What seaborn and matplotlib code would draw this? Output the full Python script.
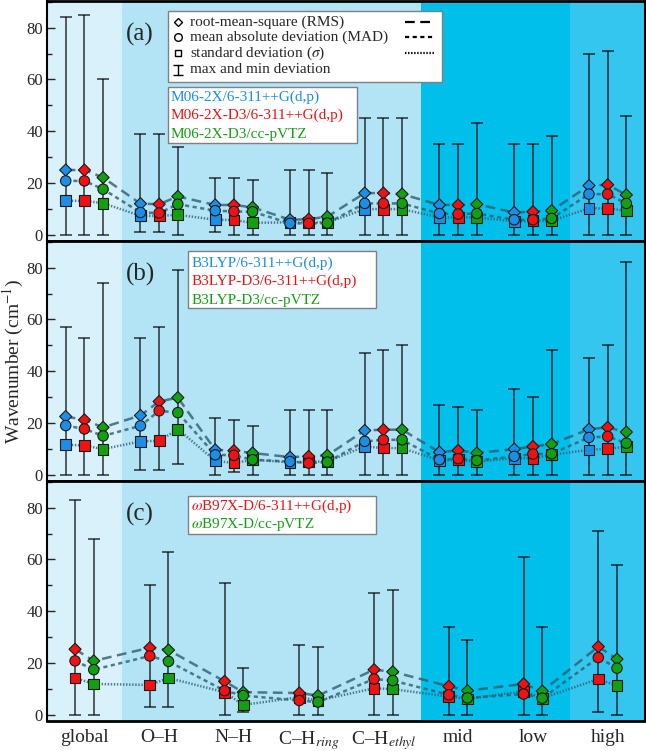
import numpy as np
import pandas as pd
import matplotlib
matplotlib.use("Agg")
import matplotlib.pyplot as plt
import seaborn as sns
from matplotlib.patches import Rectangle
from matplotlib.ticker import MultipleLocator

# ---------------- datos ----------------
categories = ["global", "O–H", "N–H", r"C–H$_{ring}$", r"C–H$_{ethyl}$", "mid", "low", "high"]

# panel (a): M06-2X  (filas: azul, rojo, verde)
a_methods = ["M06-2X/6-311++G(d,p)", "M06-2X-D3/6-311++G(d,p)", "M06-2X-D3/cc-pVTZ"]
a_rms = [[25.0, 12.0, 11.5, 5.8, 16.1, 11.5, 8.6, 19.0],
         [25.0, 11.8, 11.5, 6.0, 16.1, 11.5, 8.9, 19.3],
         [22.1, 14.8, 10.6, 7.0, 15.7, 11.8, 9.3, 15.4]]
a_mad = [[20.8, 8.6, 9.3, 4.4, 12.1, 8.2, 5.8, 15.7],
         [20.8, 8.4, 9.0, 4.4, 12.1, 8.0, 5.8, 15.7],
         [17.6, 11.8, 8.9, 4.5, 12.1, 8.2, 6.3, 12.1]]
a_sd = [[13.1, 7.3, 5.8, 4.8, 9.9, 6.7, 5.1, 10.2],
        [13.1, 7.3, 5.7, 4.8, 9.9, 6.7, 5.4, 10.2],
        [12.2, 7.7, 4.6, 4.8, 9.9, 6.7, 5.4, 9.3]]
a_max = [[84, 39, 22, 25, 45, 35, 35, 70],
         [85, 39, 22, 25, 45, 35, 35, 71],
         [60, 34, 21, 24, 45, 43, 38, 46]]
a_min = [[0, 1, 1, 0, 0, 0, 0, 0],
         [0, 1, 0, 0, 0, 0, 0, 0],
         [0, 0, 0, 0, 0, 0, 0, 0]]

# panel (b): B3LYP
b_methods = ["B3LYP/6-311++G(d,p)", "B3LYP-D3/6-311++G(d,p)", "B3LYP-D3/cc-pVTZ"]
b_rms = [[22.5, 22.9, 9.6, 6.8, 17.1, 8.7, 9.9, 17.6],
         [21.2, 28.3, 9.3, 7.1, 17.4, 9.4, 10.9, 18.3],
         [18.3, 29.8, 8.4, 7.5, 17.4, 8.4, 11.8, 16.5]]
b_mad = [[19.0, 18.9, 7.7, 5.1, 12.9, 5.8, 7.1, 14.4],
         [17.7, 24.7, 7.5, 4.5, 13.5, 6.2, 8.0, 14.8],
         [15.0, 24.0, 5.8, 4.9, 13.5, 5.5, 8.1, 12.2]]
b_sd = [[11.6, 12.9, 5.4, 4.8, 10.9, 5.5, 6.4, 9.6],
        [11.3, 13.1, 4.5, 5.1, 10.3, 5.8, 6.4, 10.0],
        [9.9, 17.6, 5.8, 5.1, 10.3, 5.1, 7.7, 10.9]]
b_max = [[57, 53, 22, 25, 47, 27, 33, 45],
         [53, 57, 21, 25, 48, 26, 30, 50],
         [74, 79, 19, 25, 50, 25, 48, 82]]
b_min = [[0, 2, 0, 0, 0, 0, 0, 0],
         [0, 2, 1, 0, 0, 0, 0, 0],
         [0, 4, 0, 0, 0, 0, 0, 0]]

# panel (c): wB97X-D  (filas: rojo, verde)
c_methods = [r"$\omega$B97X-D/6-311++G(d,p)", r"$\omega$B97X-D/cc-pVTZ"]
c_rms = [[25.3, 25.9, 12.9, 8.4, 17.4, 11.0, 11.9, 26.3],
         [20.8, 25.0, 8.7, 7.4, 16.6, 9.3, 9.1, 21.5]]
c_mad = [[20.8, 22.7, 9.3, 5.5, 13.8, 7.7, 8.0, 22.1],
         [17.4, 20.6, 7.4, 4.9, 13.2, 6.5, 6.4, 18.0]]
c_sd = [[14.2, 11.5, 8.7, 6.8, 10.2, 7.0, 9.1, 13.8],
        [11.9, 14.2, 3.8, 5.5, 9.9, 6.1, 6.4, 11.2]]
c_max = [[83, 50, 51, 27, 47, 34, 61, 71],
         [68, 63, 18, 26, 48, 29, 34, 58]]
c_min = [[0, 3, 0, 0, 0, 0, 0, 1],
         [0, 3, 1, 0, 0, 0, 0, 0]]

# ---------------- estilo ----------------
BLUE, RED, GREEN = "#1b8ee8", "#f01212", "#12a012"
LINE_COLOR = "#2b5e70"
bands = [(-0.5, 0.5, "#d8f1fb"), (0.5, 4.5, "#b2e4f6"),
         (4.5, 6.5, "#00bfea"), (6.5, 7.5, "#35c6ef")]

sns.set_style("ticks")
plt.rcParams["font.family"] = ["Liberation Serif", "DejaVu Serif"]
plt.rcParams["mathtext.fontset"] = "stix"
plt.rcParams["lines.scale_dashes"] = False

dash_rms = (0, (7, 4))
dash_mad = (0, (3, 2.5))
dash_sd = (0, (1, 1.2))


def build(methods, offsets, rms, mad, sd, vmax, vmin):
    rows = []
    for k, m in enumerate(methods):
        for i in range(len(categories)):
            rows.append(dict(method=m, x=i + offsets[k], rms=rms[k][i], mad=mad[k][i],
                             sd=sd[k][i], vmax=vmax[k][i], vmin=vmin[k][i]))
    return pd.DataFrame(rows).sort_values("x").reset_index(drop=True)


df_a = build(a_methods, [-0.25, 0, 0.25], a_rms, a_mad, a_sd, a_max, a_min)
df_b = build(b_methods, [-0.25, 0, 0.25], b_rms, b_mad, b_sd, b_max, b_min)
df_c = build(c_methods, [-0.125, 0.125], c_rms, c_mad, c_sd, c_max, c_min)

fig, axes = plt.subplots(3, 1, figsize=(6.46, 7.51), dpi=100, sharex=True)
fig.subplots_adjust(left=0.0728, right=0.9985, top=0.9987, bottom=0.04, hspace=0)

panels = [
    (axes[0], df_a, dict(zip(a_methods, [BLUE, RED, GREEN])), "(a)"),
    (axes[1], df_b, dict(zip(b_methods, [BLUE, RED, GREEN])), "(b)"),
    (axes[2], df_c, dict(zip(c_methods, [RED, GREEN])), "(c)"),
]

for ax, df, pal, tag in panels:
    for lo, hi, col in bands:
        ax.axvspan(lo, hi, color=col, lw=0, zorder=0)

    # lineas que unen todos los puntos
    for col, ls in [("rms", dash_rms), ("mad", dash_mad), ("sd", dash_sd)]:
        sns.lineplot(data=df, x="x", y=col, ax=ax, estimator=None, sort=True,
                     color=LINE_COLOR, lw=1.8, alpha=0.8, linestyle=ls, zorder=2)

    # barras max/min
    ax.errorbar(df["x"], df["rms"], yerr=[df["rms"] - df["vmin"], df["vmax"] - df["rms"]],
                fmt="none", ecolor="black", alpha=0.72, elinewidth=1.2, capsize=4,
                capthick=1.2, zorder=2.5)

    # marcadores
    for col, mk, size in [("sd", "s", 60), ("rms", "D", 38), ("mad", "o", 56)]:
        sns.scatterplot(data=df, x="x", y=col, hue="method", palette=pal, marker=mk, s=size,
                        edgecolor="#1a1a1a", linewidth=0.8, legend=False, ax=ax, zorder=3)

    ax.set_xlim(-0.5, 7.5)
    ax.set_ylim(-2.4, 90.3)
    ax.set_xlabel("")
    ax.set_ylabel("")
    ax.yaxis.set_major_locator(MultipleLocator(20))
    ax.yaxis.set_minor_locator(MultipleLocator(10))
    ax.tick_params(axis="y", which="major", direction="in", length=6, width=1, labelsize=12, pad=3)
    ax.tick_params(axis="y", which="minor", direction="in", length=3.5, width=1)
    ax.tick_params(axis="x", length=0, labelsize=14, pad=6)
    for sp in ax.spines.values():
        sp.set_color("black")
        sp.set_linewidth(1.5)
        sp.set_zorder(5)
    ax.spines["top"].set_linewidth(2)
    ax.spines["bottom"].set_linewidth(2)
    ax.text(0.1555, 0.862, tag, transform=ax.transAxes, fontsize=18, ha="center", va="center")

axes[2].set_xticks(range(len(categories)))
axes[2].set_xticklabels(categories)
fig.text(0.021, 0.519, "Wavenumber (cm$^{-1}$)", fontsize=14, rotation=90,
         ha="center", va="center")


def text_box(ax, x0, y0, x1, y1):
    ax.add_patch(Rectangle((x0, y0), x1 - x0, y1 - y0, transform=ax.transAxes,
                           facecolor="white", edgecolor="#808080", lw=1, zorder=6))


# leyenda de estadisticos (panel a)
ax = axes[0]
text_box(ax, 0.202, 0.6625, 0.6605, 0.958)
stat_rows = [
    ("D", 4.5, "root-mean-square (RMS)", dash_rms),
    ("o", 5.5, "mean absolute deviation (MAD)", dash_mad),
    ("s", 5.0, r"standard deviation ($\sigma$)", dash_sd),
]
row_y = [0.9125, 0.85, 0.783, 0.7125]
for (mk, ms, label, ls), yy in zip(stat_rows, row_y):
    ax.plot([0.219], [yy], marker=mk, ms=ms, mfc="white", mec="black", mew=1,
            transform=ax.transAxes, zorder=7)
    ax.text(0.239, yy, label, transform=ax.transAxes, fontsize=11, va="center", zorder=7)
    ax.plot([0.599, 0.649], [yy, yy], color="black", lw=1.6, linestyle=ls,
            transform=ax.transAxes, zorder=7)
ax.plot([0.219, 0.219], [row_y[3] - 0.022, row_y[3] + 0.022], color="black", lw=1,
        marker="_", ms=7, mew=1, transform=ax.transAxes, zorder=7)
ax.text(0.239, row_y[3], "max and min deviation", transform=ax.transAxes, fontsize=11,
        va="center", zorder=7)

# leyendas de metodos
method_boxes = [
    (axes[0], a_methods, [BLUE, RED, GREEN], (0.202, 0.408, 0.518, 0.642), [0.6, 0.525, 0.442], 0.206),
    (axes[1], b_methods, [BLUE, RED, GREEN], (0.236, 0.721, 0.550, 0.958), [0.908, 0.833, 0.754], 0.241),
    (axes[2], c_methods, [RED, GREEN], (0.236, 0.779, 0.550, 0.9375), [0.896, 0.817], 0.241),
]
for ax, names, cols, (x0, y0, x1, y1), ys, tx in method_boxes:
    text_box(ax, x0, y0, x1, y1)
    for name, c, yy in zip(names, cols, ys):
        ax.text(tx, yy, name, color=c, transform=ax.transAxes, fontsize=11, va="center", zorder=7)

fig.savefig("out.png", dpi=100)
